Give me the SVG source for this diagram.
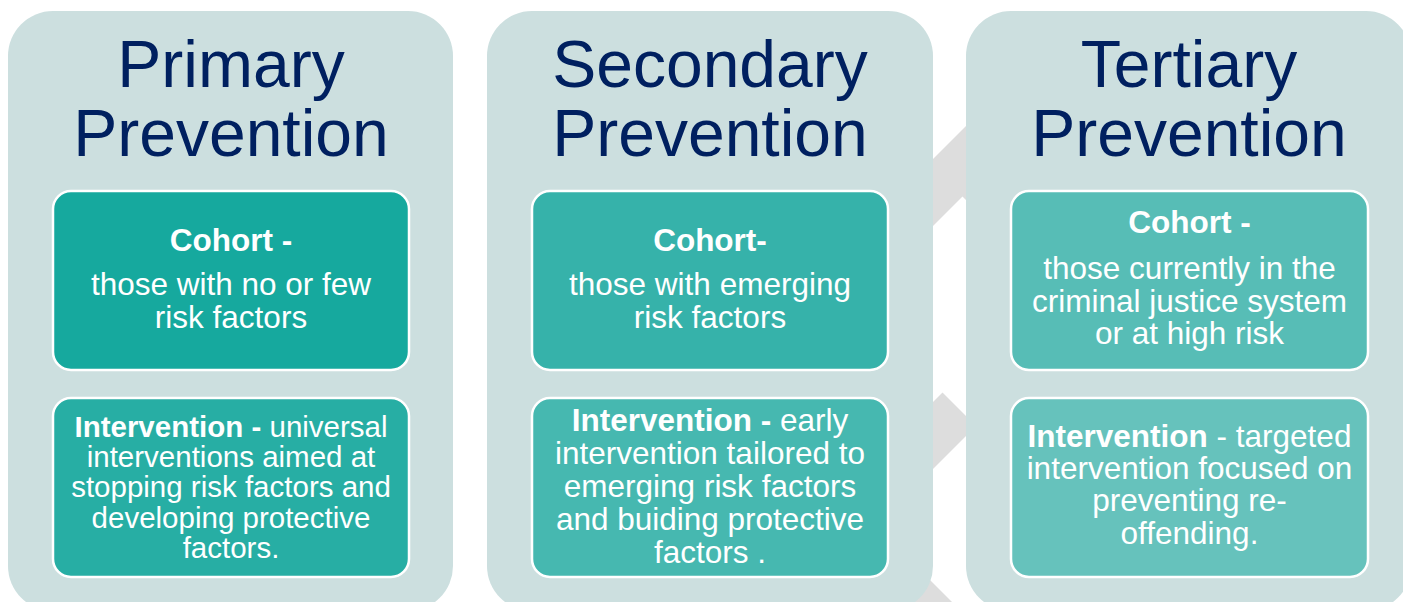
<svg xmlns="http://www.w3.org/2000/svg" width="1403" height="602" viewBox="0 0 1403 602">
  <style>
    .col { fill: #CCDFDF; }
    .box { stroke: #FFFFFF; stroke-width: 2.5; }
    .title { font-family: "Liberation Sans", Arial, sans-serif; font-size: 66px; fill: #002060; text-anchor: middle; }
    .txt { font-family: "Liberation Sans", Arial, sans-serif; fill: #FFFFFF; text-anchor: middle; }
    .b { font-weight: bold; }
    .chev { fill: #DDDDDD; }
  </style>

  <rect width="1403" height="602" fill="#FFFFFF"/>

  <!-- background zigzag arrow, mostly hidden behind the columns -->
  <g id="connectors">
    <polygon class="chev" points="925,167 975,117 975,209 962.5,196.5 925,234"/>
    <polygon class="chev" points="925,410 942.5,392.5 975,425 975,427 925,477"/>
    <polygon class="chev" points="890,540 905,555 957,607 890,607"/>
  </g>

  <!-- Primary -->
  <g id="primary">
    <rect class="col" x="8" y="11" width="445" height="600" rx="45"/>
    <text class="title" x="231" y="87">Primary</text>
    <text class="title" x="231" y="156">Prevention</text>
    <rect class="box" x="53" y="191" width="356" height="179" rx="18" fill="#16A99E"/>
    <text class="txt" font-size="31.5" x="231" y="251"><tspan class="b">Cohort -</tspan></text>
    <text class="txt" font-size="31.5" x="231" y="295">those with no or few</text>
    <text class="txt" font-size="31.5" x="231" y="328">risk factors</text>
    <rect class="box" x="53" y="398" width="356" height="179" rx="18" fill="#27AEA4"/>
    <text class="txt" font-size="29.5" x="231" y="437"><tspan class="b">Intervention -</tspan> universal</text>
    <text class="txt" font-size="29.5" x="231" y="467">interventions aimed at</text>
    <text class="txt" font-size="29.5" x="231" y="497">stopping risk factors and</text>
    <text class="txt" font-size="29.5" x="231" y="528">developing protective</text>
    <text class="txt" font-size="29.5" x="231" y="558">factors.</text>
  </g>

  <!-- Secondary -->
  <g id="secondary">
    <rect class="col" x="487" y="11" width="446" height="600" rx="45"/>
    <text class="title" x="710" y="87">Secondary</text>
    <text class="title" x="710" y="156">Prevention</text>
    <rect class="box" x="532" y="191" width="356" height="179" rx="18" fill="#36B2AA"/>
    <text class="txt" font-size="31.5" x="710" y="251"><tspan class="b">Cohort-</tspan></text>
    <text class="txt" font-size="31.5" x="710" y="295">those with emerging</text>
    <text class="txt" font-size="31.5" x="710" y="328">risk factors</text>
    <rect class="box" x="532" y="398" width="356" height="179" rx="18" fill="#46B8B0"/>
    <text class="txt" font-size="31.5" x="710" y="431"><tspan class="b">Intervention -</tspan> early</text>
    <text class="txt" font-size="31.5" x="710" y="464">intervention tailored to</text>
    <text class="txt" font-size="31.5" x="710" y="497">emerging risk factors</text>
    <text class="txt" font-size="31.5" x="710" y="530">and buiding protective</text>
    <text class="txt" font-size="31.5" x="710" y="563">factors .</text>
  </g>

  <!-- Tertiary -->
  <g id="tertiary">
    <rect class="col" x="966" y="11" width="445" height="600" rx="45"/>
    <text class="title" x="1189" y="87">Tertiary</text>
    <text class="title" x="1189" y="156">Prevention</text>
    <rect class="box" x="1011" y="191" width="357" height="179" rx="18" fill="#57BDB6"/>
    <text class="txt" font-size="31.5" x="1189.5" y="233"><tspan class="b">Cohort -</tspan></text>
    <text class="txt" font-size="31.5" x="1189.5" y="279">those currently in the</text>
    <text class="txt" font-size="31.5" x="1189.5" y="312">criminal justice system</text>
    <text class="txt" font-size="31.5" x="1189.5" y="344">or at high risk</text>
    <rect class="box" x="1011" y="398" width="357" height="179" rx="18" fill="#66C2BC"/>
    <text class="txt" font-size="31.5" x="1189.5" y="447"><tspan class="b">Intervention</tspan> - targeted</text>
    <text class="txt" font-size="31.5" x="1189.5" y="479">intervention focused on</text>
    <text class="txt" font-size="31.5" x="1189.5" y="511">preventing re-</text>
    <text class="txt" font-size="31.5" x="1189.5" y="544">offending.</text>
  </g>
</svg>
